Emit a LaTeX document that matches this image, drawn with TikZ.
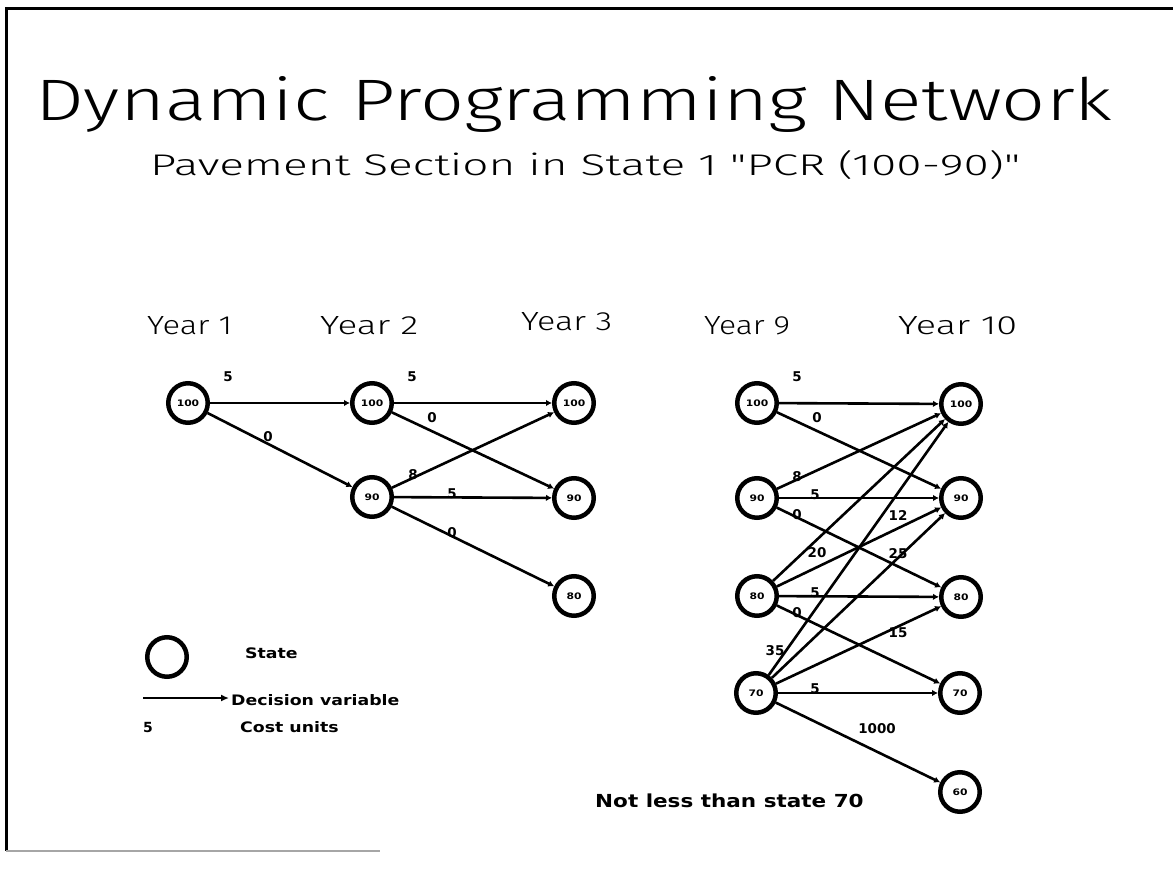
\documentclass[tikz,border=0pt]{standalone}
\usepackage{fontspec}
\usepackage{graphicx}
\setmainfont{DejaVu Sans}
\newfontfamily\plotfont{Fira Sans Light}
\newfontfamily\labfont{DejaVu Sans Bold}[FakeStretch=1.2]
\newfontfamily\numfont{DejaVu Sans Bold}
\usetikzlibrary{arrows.meta}
% scale a line of plotter lettering to a given width and cap height
\newcommand\fitbox[3]{\resizebox{#1bp}{#2bp}{\plotfont #3}}

\begin{document}
\begin{tikzpicture}[x=1bp,y=-1bp,
  state/.style={circle, draw, line width=4.5bp, minimum size=39.5bp, inner sep=0pt,
    font=\labfont\fontsize{9}{9}\selectfont},
  decision/.style={line width=2.6bp, -{Latex[length=6bp,width=6.5bp]}},
  cost/.style={font=\numfont\fontsize{13.5}{13.5}\selectfont, inner sep=0pt},
  heading/.style={anchor=base west, inner sep=0pt},
  legendtext/.style={anchor=base west, inner sep=0pt, font=\labfont\fontsize{14.5}{14.5}\selectfont},
]
\useasboundingbox (0,0) rectangle (1173,869);

% frame
\draw[line width=3bp] (1173,8) -- (6,8) -- (6,851);
\draw[line width=1.5bp, black!35] (6,851) -- (380,851);

% headings
\node[heading] (title) at (35,120) {\fitbox{1077}{44}{Dynamic Programming Network}};
\node[heading] (subtitle) at (150,175) {\fitbox{870}{25}{Pavement Section in State 1 "PCR (100-90)"}};
\node[heading] (y1)  at (147,334) {\fitbox{85}{18}{Year 1}};
\node[heading] (y2)  at (320,334) {\fitbox{98}{18}{Year 2}};
\node[heading] (y3)  at (521,330) {\fitbox{91}{18}{Year 3}};
\node[heading] (y9)  at (704,334) {\fitbox{86}{18}{Year 9}};
\node[heading] (y10) at (898,334) {\fitbox{119}{18}{Year 10}};

% states, years 1-3
\node[state] (a1) at (188,403) {100};
\node[state] (b1) at (372,403) {100};
\node[state] (b2) at (372,497) {90};
\node[state] (c1) at (574,403) {100};
\node[state] (c2) at (574,498) {90};
\node[state] (c3) at (574,596) {80};

% states, years 9-10
\node[state] (d1) at (757,403) {100};
\node[state] (d2) at (757,498) {90};
\node[state] (d3) at (757,596) {80};
\node[state] (d4) at (756,693) {70};
\node[state] (e1) at (961,404) {100};
\node[state] (e2) at (961,498) {90};
\node[state] (e3) at (961,597) {80};
\node[state] (e4) at (960,693) {70};
\node[state] (e5) at (960,792) {60};

% decisions, years 1-3
\draw[decision] (a1) -- (b1);
\draw[decision] (a1) -- (b2);
\draw[decision] (b1) -- (c1);
\draw[decision] (b1) -- (c2);
\draw[decision] (b2) -- (c1);
\draw[decision] (b2) -- (c2);
\draw[decision] (b2) -- (c3);

% decisions, years 9-10
\draw[decision] (d1) -- (e1);
\draw[decision] (d1) -- (e2);
\draw[decision] (d2) -- (e1);
\draw[decision] (d2) -- (e2);
\draw[decision] (d2) -- (e3);
\draw[decision] (d3) -- (e1);
\draw[decision] (d3) -- (e2);
\draw[decision] (d3) -- (e3);
\draw[decision] (d3) -- (e4);
\draw[decision] (d4) -- (e1);
\draw[decision] (d4) -- (e2);
\draw[decision] (d4) -- (e3);
\draw[decision] (d4) -- (e4);
\draw[decision] (d4) -- (e5);

% costs, years 1-3
\node[cost] (k1) at (228,377) {5};
\node[cost] (k2) at (268,437) {0};
\node[cost] (k3) at (412,377) {5};
\node[cost] (k4) at (432,418) {0};
\node[cost] (k5) at (413,475) {8};
\node[cost] (k6) at (452,494) {5};
\node[cost] (k7) at (452,533) {0};

% costs, years 9-10
\node[cost] (m1)  at (797,377) {5};
\node[cost] (m2)  at (817,418) {0};
\node[cost] (m3)  at (797,477) {8};
\node[cost] (m4)  at (815,495) {5};
\node[cost] (m5)  at (797,515) {0};
\node[cost] (m6)  at (898,516) {12};
\node[cost] (m7)  at (817,553) {20};
\node[cost] (m8)  at (898,554) {25};
\node[cost] (m9)  at (815,593) {5};
\node[cost] (m10) at (797,613) {0};
\node[cost] (m11) at (898,633) {15};
\node[cost] (m12) at (775,651) {35};
\node[cost] (m13) at (815,689) {5};
\node[cost] (m14) at (877,729) {1000};

\node[legendtext, font=\labfont\fontsize{18}{18}\selectfont] (note) at (595,807) {Not less than state 70};

% legend
\node[state] (lgstate) at (167,657) {};
\node[legendtext] (lgstatetext) at (245,658) {State};
\coordinate (lgfrom) at (143,698);
\coordinate (lgto) at (229,698);
\draw[line width=2.6bp, -{Latex[length=8bp,width=7bp]}] (lgfrom) -- (lgto);
\node[legendtext] (lgdectext) at (231,705) {Decision variable};
\node[legendtext, font=\numfont\fontsize{14}{14}\selectfont] (lgcost) at (143,732) {5};
\node[legendtext] (lgcosttext) at (240,732) {Cost units};
\end{tikzpicture}
\end{document}
